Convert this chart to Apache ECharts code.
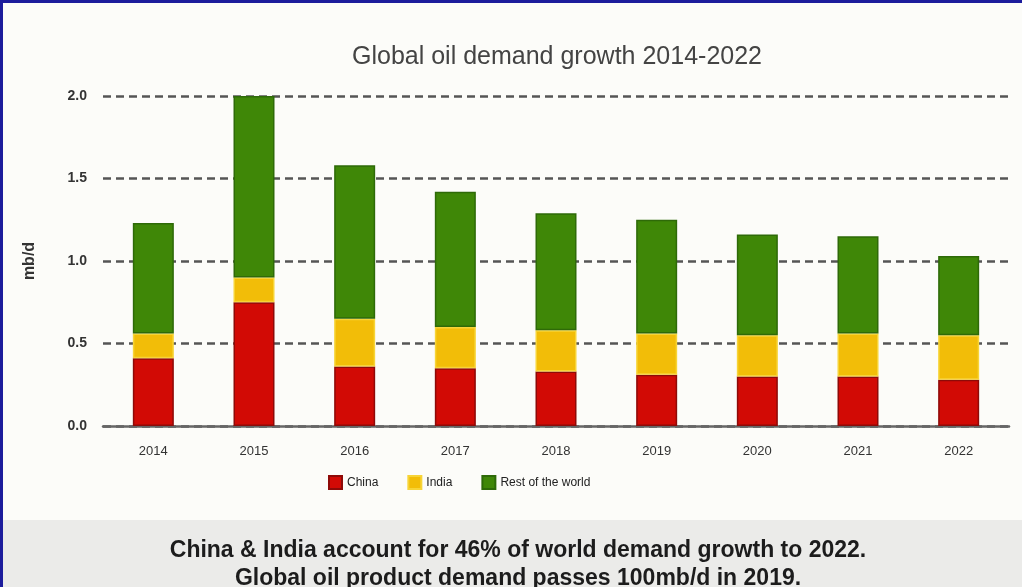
<!DOCTYPE html>
<html>
<head>
<meta charset="utf-8">
<script src="https://cdn.jsdelivr.net/npm/echarts@6/dist/echarts.min.js"></script>
<style>
    html, body { margin: 0; padding: 0; background: #fcfcf9; }
    #main { width: 1022px; height: 587px; box-sizing: border-box; border-top: 3px solid #1c1c9c; border-left: 3px solid #1c1c9c; }
</style>
</head>
<body>
<div id="main"></div>
<script>
// data (mb/d)
var years = ['2014', '2015', '2016', '2017', '2018', '2019', '2020', '2021', '2022'];
var china = [0.41, 0.75, 0.36, 0.35, 0.33, 0.31, 0.30, 0.30, 0.28];
var india = [0.15, 0.15, 0.29, 0.25, 0.25, 0.25, 0.25, 0.26, 0.27];
var restOfWorld = [0.67, 1.10, 0.93, 0.82, 0.71, 0.69, 0.61, 0.59, 0.48];
var yTicks = [0, 0.5, 1.0, 1.5, 2.0];

var myChart = echarts.init(document.getElementById('main'));

var option = {
    backgroundColor: '#fcfcf9',
    animation: false,
    title: {
        text: 'Global oil demand growth 2014-2022',
        left: 344,
        top: 37,
        textStyle: {
            color: '#444',
            fontSize: 25,
            fontWeight: 'normal',
            fontFamily: 'Liberation Sans'
        }
    },
    grid: {
        left: 100,
        right: 13,
        top: 93,
        bottom: 161
    },
    legend: {
        left: 320,
        top: 467,
        itemWidth: 13,
        itemHeight: 13,
        itemGap: 29,
        icon: 'rect',
        textStyle: {
            color: '#222',
            fontSize: 12,
            fontFamily: 'Liberation Sans'
        },
        data: ['China', 'India', 'Rest of the world']
    },
    xAxis: {
        type: 'category',
        data: years,
        axisLine: {
            lineStyle: { color: '#666', width: 2.5 }
        },
        axisTick: {
            inside: true,
            length: 4,
            lineStyle: { color: '#555', width: 2 }
        },
        axisLabel: {
            margin: 19,
            color: '#333',
            fontSize: 13,
            fontFamily: 'Liberation Sans'
        }
    },
    yAxis: {
        type: 'value',
        min: 0,
        max: 2,
        interval: 0.5,
        name: 'mb/d',
        nameLocation: 'middle',
        nameRotate: 90,
        nameGap: 65,
        nameTextStyle: {
            color: '#333',
            fontSize: 16,
            fontWeight: 'bold',
            fontFamily: 'Liberation Sans'
        },
        axisLine: { show: false },
        axisTick: { show: false },
        axisLabel: {
            margin: 16,
            color: '#333',
            fontSize: 14,
            fontWeight: 'bold',
            fontFamily: 'Liberation Sans',
            formatter: function (v) {
                return yTicks.indexOf(v) >= 0 ? v.toFixed(1) : '';
            }
        },
        splitLine: {
            lineStyle: {
                color: '#555',
                width: 2.5,
                type: [8, 5]
            }
        }
    },
    series: [{
        name: 'China',
        type: 'bar',
        stack: 'total',
        barWidth: 41,
        data: china,
        itemStyle: { color: '#d20a05', borderColor: '#8e0a08', borderWidth: 1.5 }
    }, {
        name: 'India',
        type: 'bar',
        stack: 'total',
        data: india,
        itemStyle: { color: '#f2bd08', borderColor: '#f7d437', borderWidth: 1.5 }
    }, {
        name: 'Rest of the world',
        type: 'bar',
        stack: 'total',
        data: restOfWorld,
        itemStyle: { color: '#3f8707', borderColor: '#2e6a08', borderWidth: 1.5 }
    }],
    graphic: [{
        type: 'rect',
        left: 0,
        top: 517,
        shape: { width: 1022, height: 70 },
        style: { fill: '#ebebe9' },
        z: 0
    }, {
        type: 'text',
        x: 515,
        y: 536,
        style: {
            text: 'China & India account for 46% of world demand growth to 2022.',
            font: 'bold 23px "Liberation Sans"',
            fill: '#1c1c1c',
            align: 'center'
        }
    }, {
        type: 'text',
        x: 515,
        y: 564,
        style: {
            text: 'Global oil product demand passes 100mb/d in 2019.',
            font: 'bold 23px "Liberation Sans"',
            fill: '#1c1c1c',
            align: 'center'
        }
    }]
};

myChart.setOption(option);
</script>
</body>
</html>
